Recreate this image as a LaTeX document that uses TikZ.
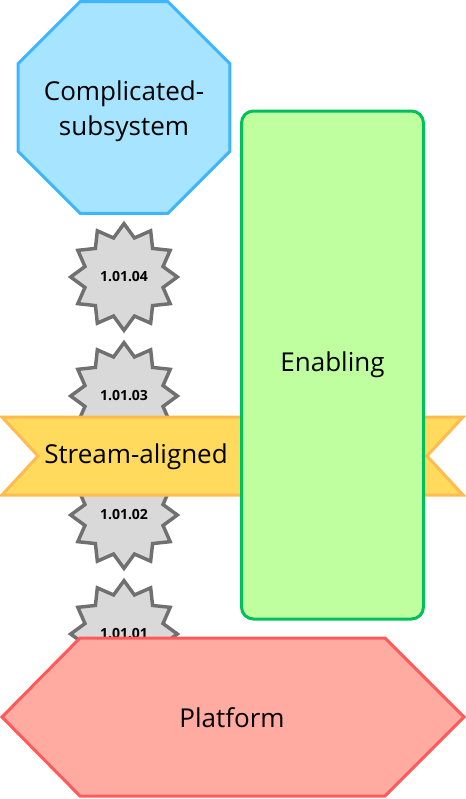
\documentclass[tikz,border=0pt]{standalone}
\usepackage{fontspec}
\setmainfont{Open Sans}
\usetikzlibrary{positioning}
\usetikzlibrary{shapes.geometric}
\definecolor{csfill}{HTML}{A6E4FF}
\definecolor{csline}{HTML}{40B5FF}
\definecolor{vfill}{HTML}{D9D9D9}
\definecolor{vline}{HTML}{707070}
\definecolor{safill}{HTML}{FFDA5C}
\definecolor{saline}{HTML}{FFBA50}
\definecolor{enfill}{HTML}{BFFFA0}
\definecolor{enline}{HTML}{00C05A}
\definecolor{pffill}{HTML}{FFABA2}
\definecolor{pfline}{HTML}{FF5A5A}

\begin{document}
\begin{tikzpicture}[x=0.75pt, y=-0.75pt, line width=2.25pt,
        bigtext/.style={font=\fontsize{19.5}{26}\selectfont, align=center},
        version/.style={star, star points=12, star point ratio=1.32,
            minimum size=80pt, inner sep=0pt, draw=vline, fill=vfill,
            line width=2.6pt, font=\fontsize{10.5}{12}\selectfont\bfseries},
        teambox/.style={bigtext, draw=#1line, fill=#1fill}]
        \useasboundingbox (0,0) rectangle (466,799);

        % versions
        \node[version] (v104) at (124,277) {1.01.04};
        \node[version] (v103) at (124,396) {1.01.03};
        \node[version] (v102) at (124,515) {1.01.02};
        \node[version] (v101) at (124,634) {1.01.01};

        % stream-aligned banner
        \draw[draw=saline, fill=safill] (2,417) -- (463,417) -- (427,456)
            -- (463,495) -- (2,495) -- (38,456) -- cycle;
        \node[bigtext] (sa) at (136,457) {Stream-aligned};

        \node[teambox=en, rectangle, rounded corners=9pt,
            minimum width=136.5pt, minimum height=381pt] (en) at (332.5,365) {Enabling};

        \node[teambox=cs, regular polygon, regular polygon sides=8,
            minimum size=172pt, inner sep=0pt] (cs) at (124,107.5) {};
        \node[bigtext] at ([yshift=-3pt]cs.center) {Complicated-\\subsystem};

        % platform
        \draw[draw=pfline, fill=pffill] (80,638) -- (385,638) -- (464,717)
            -- (385,796) -- (80,796) -- (2,717) -- cycle;
        \node[bigtext] (pf) at (232,718) {Platform};
    \end{tikzpicture}
\end{document}
